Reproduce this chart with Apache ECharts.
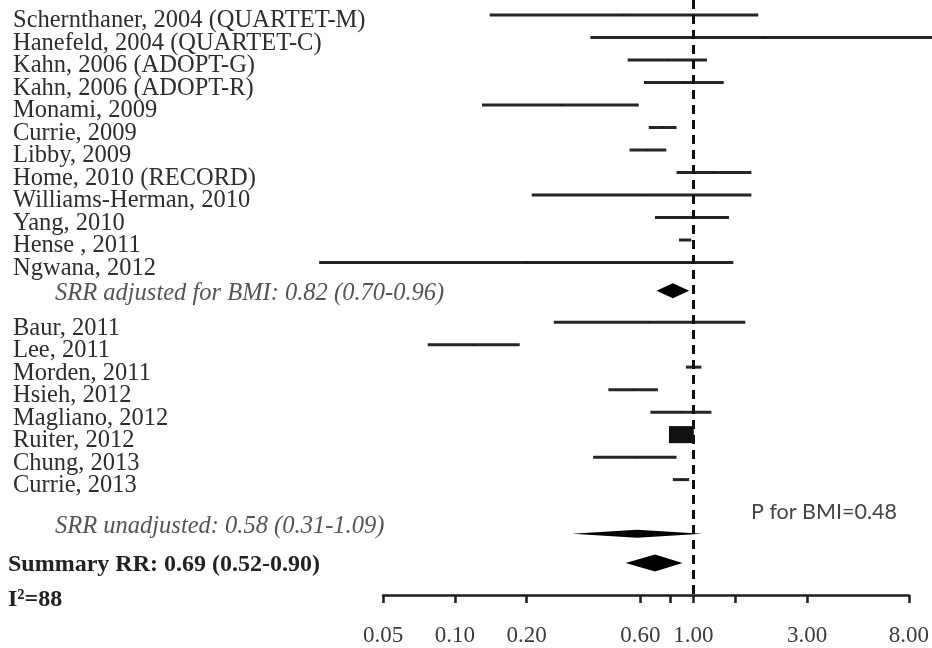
<!DOCTYPE html>
<html>
<head>
<meta charset="utf-8">
<script src="https://cdn.jsdelivr.net/npm/echarts@6/dist/echarts.min.js"></script>
<style>
  html, body { margin: 0; padding: 0; background: #fff; }
  #chart { width: 932px; height: 648px; }
</style>
</head>
<body>
<div id="chart"></div>
<script>
// studies adjusted for BMI
const names1 = ['Schernthaner, 2004 (QUARTET-M)', 'Hanefeld, 2004 (QUARTET-C)', 'Kahn, 2006 (ADOPT-G)',
  'Kahn, 2006 (ADOPT-R)', 'Monami, 2009', 'Currie, 2009', 'Libby, 2009', 'Home, 2010 (RECORD)',
  'Williams-Herman, 2010', 'Yang, 2010', 'Hense , 2011', 'Ngwana, 2012'];
const rr1 = [0.51, 1.97, 0.78, 0.91, 0.28, 0.74, 0.64, 1.22, 0.61, 0.99, 0.92, 0.20];
const lo1 = [0.14, 0.37, 0.53, 0.62, 0.13, 0.65, 0.54, 0.85, 0.21, 0.69, 0.87, 0.027];
const hi1 = [1.87, 10.5, 1.14, 1.34, 0.59, 0.85, 0.77, 1.75, 1.75, 1.41, 0.98, 1.47];
const weights1 = [0.2, 0.2, 0.2, 0.2, 0.2, 0.2, 0.2, 0.2, 0.2, 0.2, 0.2, 0.2];

// studies not adjusted for BMI
const names2 = ['Baur, 2011', 'Lee, 2011', 'Morden, 2011', 'Hsieh, 2012', 'Magliano, 2012',
  'Ruiter, 2012', 'Chung, 2013', 'Currie, 2013'];
const rr2 = [0.65, 0.12, 1.00, 0.56, 0.89, 0.89, 0.57, 0.89];
const lo2 = [0.26, 0.077, 0.93, 0.44, 0.66, 0.86, 0.38, 0.82];
const hi2 = [1.65, 0.187, 1.08, 0.71, 1.19, 0.93, 0.85, 0.96];
const weights2 = [0.2, 0.2, 0.2, 0.2, 0.2, 40, 0.2, 0.2];

// pooled estimates
const pooledNames = ['SRR adjusted for BMI', 'SRR unadjusted', 'Summary RR'];
const pooledRR = [0.82, 0.58, 0.69];
const pooledLo = [0.70, 0.31, 0.52];
const pooledHi = [0.96, 1.09, 0.90];
const i2 = 88;
const pForBMI = 0.48;

const tickValues = [0.05, 0.1, 0.2, 0.6, 0.8, 1, 1.5, 3, 8];
const labelValues = [0.05, 0.1, 0.2, 0.6, 1, 3, 8];

// row layout (in row units on the hidden y axis)
const rows1 = names1.map((_, i) => i + 1);
const rows2 = names2.map((_, i) => 14.65 + i);
const pooledRows = [13.25, 24.05, 25.35];
const unadjLabelRow = 23.6;
const i2Row = 26.9;

const SERIF = '"Liberation Serif", "Times New Roman", serif';
const fmt = v => v.toFixed(2);

const ciData = [];
const boxData = [];
rows1.forEach((r, i) => { ciData.push([lo1[i], hi1[i], r]); boxData.push([rr1[i], r, weights1[i]]); });
rows2.forEach((r, i) => { ciData.push([lo2[i], hi2[i], r]); boxData.push([rr2[i], r, weights2[i]]); });

const diamondData = pooledRows.map((r, i) => [pooledRR[i], pooledLo[i], pooledHi[i], r, i]);
const diamondHalf = [7.5, 4, 8.5];

// text rows: [x dummy, row, kind, index]
const textData = [];
rows1.forEach((r, i) => textData.push([1, r, 0, i]));
rows2.forEach((r, i) => textData.push([1, r, 1, i]));
textData.push([1, pooledRows[0], 2, 0]);
textData.push([1, unadjLabelRow, 2, 1]);
textData.push([1, pooledRows[2], 3, 2]);
textData.push([1, i2Row, 4, 0]);

function textOf(kind, idx) {
  if (kind === 0) return names1[idx];
  if (kind === 1) return names2[idx];
  if (kind === 2 || kind === 3)
    return pooledNames[idx] + ': ' + fmt(pooledRR[idx]) + ' (' + fmt(pooledLo[idx]) + '-' + fmt(pooledHi[idx]) + ')';
  return 'I\u00b2=' + i2;
}

const chart = echarts.init(document.getElementById('chart'));

const option = {
  animation: false,
  backgroundColor: '#fff',
  grid: { left: 383, right: 23, top: 0, bottom: 53 },
  xAxis: {
    type: 'log',
    logBase: 10,
    min: 0.05,
    max: 8,
    splitLine: { show: false },
    axisLine: { lineStyle: { color: '#1e1e1e', width: 2.5 } },
    axisTick: { customValues: tickValues, length: 8, lineStyle: { color: '#1e1e1e', width: 2.5 } },
    axisLabel: {
      customValues: labelValues,
      formatter: v => fmt(v),
      margin: 29,
      color: '#3a3a3a',
      fontFamily: SERIF,
      fontSize: 23
    }
  },
  yAxis: {
    type: 'value',
    inverse: true,
    min: 1 / 3,
    max: 1 / 3 + 595 / 22.5,
    show: false
  },
  graphic: [{
    type: 'text',
    left: 751,
    top: 501,
    style: { text: 'P for BMI=' + pForBMI.toFixed(2), fill: '#444', font: '21.5px Lato, "Open Sans", sans-serif' }
  }],
  series: [
    {
      type: 'custom',
      clip: false,
      silent: true,
      encode: { x: [0, 1], y: 2 },
      data: ciData,
      renderItem: (params, api) => {
        const a = api.coord([api.value(0), api.value(2)]);
        const b = api.coord([api.value(1), api.value(2)]);
        return {
          type: 'line',
          shape: { x1: a[0], y1: a[1], x2: b[0], y2: b[1] },
          style: { stroke: '#262626', lineWidth: 3 }
        };
      },
      markLine: {
        silent: true,
        symbol: 'none',
        label: { show: false },
        lineStyle: { color: '#111', width: 3, type: [9, 6] },
        data: [{ xAxis: 1 }]
      }
    },
    {
      type: 'custom',
      clip: false,
      silent: true,
      encode: { x: 0, y: 1 },
      data: boxData,
      renderItem: (params, api) => {
        const c = api.coord([api.value(0), api.value(1)]);
        const h = Math.sqrt(api.value(2)) * 2.7;
        const w = h * 1.45;
        return {
          type: 'rect',
          shape: { x: c[0] - w / 2, y: c[1] - h / 2, width: w, height: h },
          style: { fill: '#111' }
        };
      }
    },
    {
      type: 'custom',
      clip: false,
      silent: true,
      encode: { x: [0, 1, 2], y: 3 },
      data: diamondData,
      renderItem: (params, api) => {
        const r = api.value(3);
        const hh = diamondHalf[api.value(4)];
        const m = api.coord([api.value(0), r]);
        const l = api.coord([api.value(1), r]);
        const h = api.coord([api.value(2), r]);
        return {
          type: 'polygon',
          shape: { points: [[l[0], l[1]], [m[0], m[1] - hh], [h[0], h[1]], [m[0], m[1] + hh]] },
          style: { fill: '#000' }
        };
      }
    },
    {
      type: 'custom',
      clip: false,
      silent: true,
      encode: { x: 0, y: 1 },
      data: textData,
      renderItem: (params, api) => {
        const kind = api.value(2);
        const idx = api.value(3);
        const p = api.coord([1, api.value(1)]);
        let x = 13, dy = 6, style = 'normal', weight = 'normal', size = 24.5, color = '#2e2e2e';
        if (kind === 2) { x = 55; dy = 3; style = 'italic'; color = '#555'; }
        if (kind === 3 || kind === 4) { x = 8; dy = 2; weight = 'bold'; size = 24; color = '#222'; }
        return {
          type: 'text',
          x: x,
          y: p[1] + dy,
          style: {
            text: textOf(kind, idx),
            fill: color,
            fontFamily: SERIF,
            fontSize: size,
            fontStyle: style,
            fontWeight: weight,
            align: 'left',
            verticalAlign: 'middle'
          }
        };
      }
    }
  ]
};

chart.setOption(option);
</script>
</body>
</html>
